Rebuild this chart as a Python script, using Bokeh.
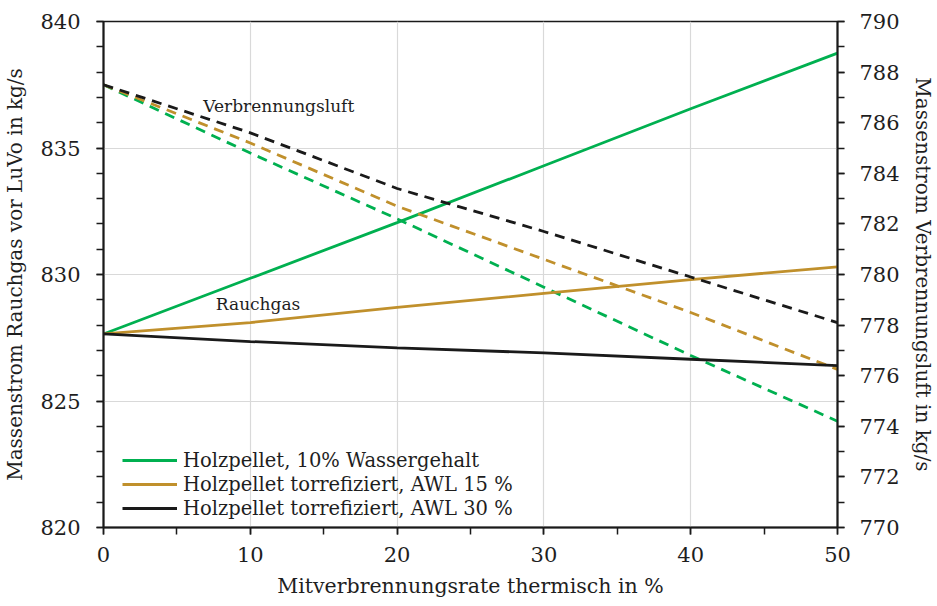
from bokeh.plotting import figure
from bokeh.models import Range1d, LinearAxis, SingleIntervalTicker, Legend, LegendItem
from bokeh.core.properties import value
from bokeh.embed import file_html
from bokeh.resources import INLINE

# Mitverbrennungsrate thermisch in %
rate = [0, 10, 20, 30, 40, 50]

# Massenstrom Rauchgas vor LuVo in kg/s (left axis)
rauchgas_holz = [827.65, 829.85, 832.05, 834.3, 836.55, 838.75]
rauchgas_awl15 = [827.65, 828.1, 828.7, 829.25, 829.8, 830.3]
rauchgas_awl30 = [827.65, 827.35, 827.1, 826.9, 826.65, 826.4]

# Massenstrom Verbrennungsluft in kg/s (right axis)
luft_holz = [787.5, 784.8, 782.2, 779.5, 776.8, 774.2]
luft_awl15 = [787.5, 785.2, 782.7, 780.6, 778.5, 776.25]
luft_awl30 = [787.5, 785.6, 783.4, 781.7, 779.9, 778.1]

series_names = [
    "Holzpellet, 10% Wassergehalt",
    "Holzpellet torrefiziert, AWL 15 %",
    "Holzpellet torrefiziert, AWL 30 %",
]
colors = ["#00b050", "#c0902c", "#1a1a1a"]

FONT = "DejaVu Serif"
TXT = "#1e1e1e"

p = figure(
    width=937, height=606,
    x_range=Range1d(0, 50), y_range=Range1d(820, 840),
    output_backend="svg", toolbar_location=None,
    min_border_left=103, min_border_right=96, min_border_top=21, min_border_bottom=79,
)
p.extra_y_ranges = {"luft": Range1d(770, 790)}
p.outline_line_color = "#1a1a1a"
p.outline_line_width = 1.5

def style_axis(ax):
    ax.axis_line_color = "#1a1a1a"
    ax.axis_line_width = 2
    ax.major_tick_line_color = "#1a1a1a"
    ax.minor_tick_line_color = "#1a1a1a"
    ax.major_tick_line_width = 1.5
    ax.minor_tick_line_width = 1.5
    ax.major_tick_in = 0
    ax.major_tick_out = 7
    ax.minor_tick_in = 0
    ax.minor_tick_out = 7
    ax.major_label_text_font = FONT
    ax.major_label_text_font_size = "21px"
    ax.major_label_text_color = TXT
    ax.axis_label_text_font = FONT
    ax.axis_label_text_font_size = "20px"
    ax.axis_label_text_font_style = "normal"
    ax.axis_label_text_color = TXT

xa = p.xaxis[0]
xa.ticker = SingleIntervalTicker(interval=10, num_minor_ticks=2)
xa.axis_label = "Mitverbrennungsrate thermisch in %"
style_axis(xa)
xa.axis_label_text_font_size = "20.5px"
xa.major_label_standoff = 12
xa.axis_label_standoff = 9

ya = p.yaxis[0]
ya.ticker = SingleIntervalTicker(interval=5, num_minor_ticks=5)
ya.axis_label = "Massenstrom Rauchgas vor LuVo in kg/s"
style_axis(ya)
ya.major_label_standoff = 16
ya.axis_label_standoff = 10

ra = LinearAxis(y_range_name="luft",
                ticker=SingleIntervalTicker(interval=2, num_minor_ticks=2),
                axis_label="Massenstrom Verbrennungsluft in kg/s")
style_axis(ra)
ra.major_label_standoff = 15
ra.axis_label_standoff = 8
p.add_layout(ra, "right")

p.xgrid.grid_line_color = "#d9d9d9"
p.ygrid.grid_line_color = "#d9d9d9"
p.xgrid.grid_line_width = 1.2
p.ygrid.grid_line_width = 1.2

items = []
for name, c, rg, lf in zip(series_names, colors,
                           [rauchgas_holz, rauchgas_awl15, rauchgas_awl30],
                           [luft_holz, luft_awl15, luft_awl30]):
    r = p.line(rate, rg, line_color=c, line_width=2.8)
    p.line(rate, lf, line_color=c, line_width=2.8, line_dash="10 7",
           y_range_name="luft")
    items.append(LegendItem(label=name, renderers=[r]))

legend = Legend(items=items, location=(14, 2))
legend.background_fill_alpha = 0
legend.border_line_alpha = 0
legend.label_text_font = FONT
legend.label_text_font_size = "19.5px"
legend.label_text_color = TXT
legend.glyph_width = 55
legend.glyph_height = 24
legend.label_height = 24
legend.label_standoff = 6
legend.spacing = 0
legend.padding = 5
legend.margin = 0
p.add_layout(legend)

p.text(x=[6.8], y=[836.65], text=["Verbrennungsluft"], text_font=value(FONT),
       text_font_size="17px", text_color=TXT, text_baseline="middle", text_align="left")
p.text(x=[7.65], y=[828.85], text=["Rauchgas"], text_font=value(FONT),
       text_font_size="17px", text_color=TXT, text_baseline="middle", text_align="left")

open("out.html", "w").write(file_html(p, INLINE))
